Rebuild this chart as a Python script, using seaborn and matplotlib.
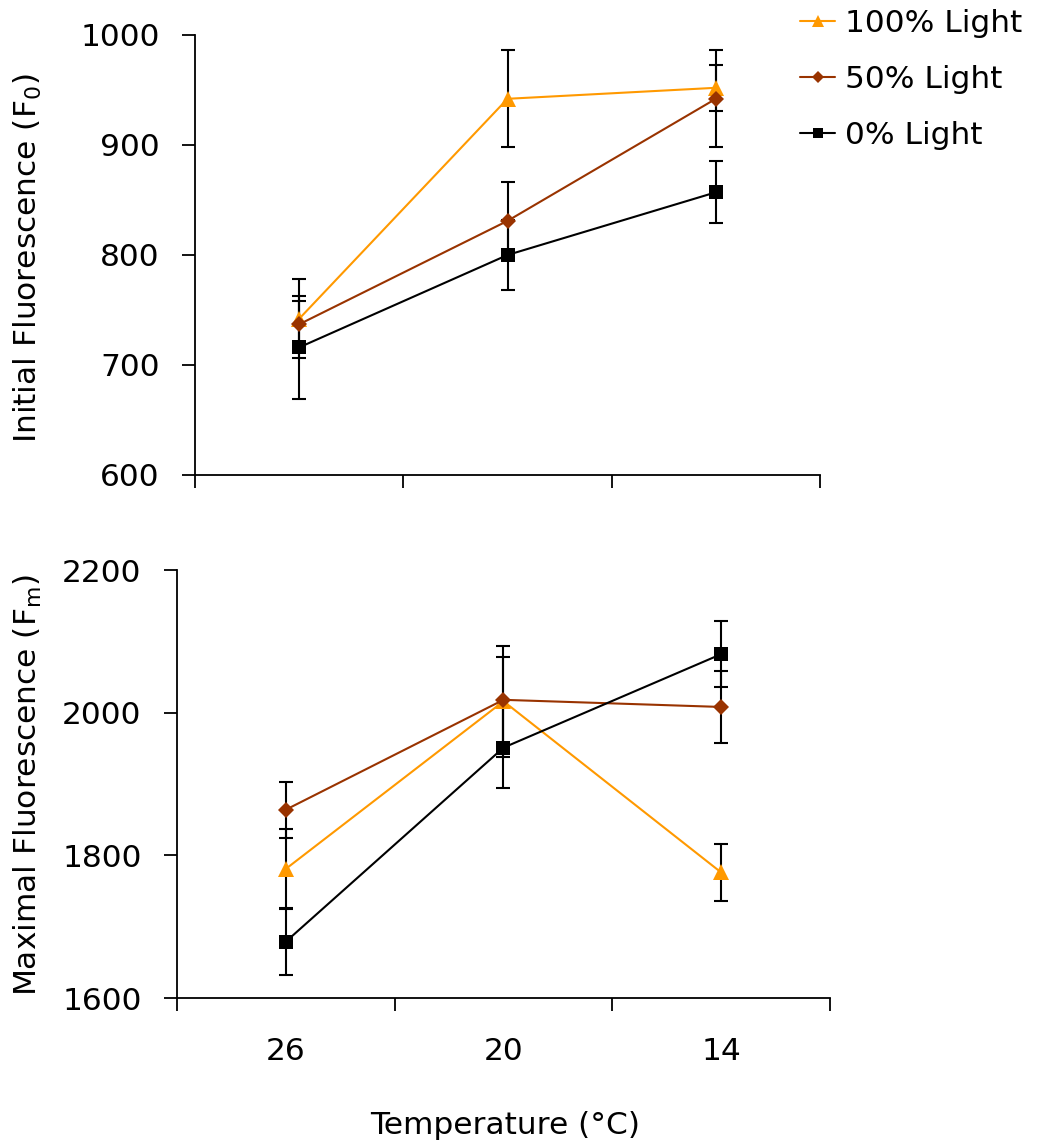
import matplotlib
matplotlib.use("Agg")
import matplotlib.pyplot as plt
from matplotlib.lines import Line2D
import seaborn as sns
import pandas as pd
import numpy as np

# ---- data ----
temperatures = ["26", "20", "14"]
series_names = ["100% Light", "50% Light", "0% Light"]

f0_100 = [742, 942, 952]
f0_100_err = [36, 44, 21]
f0_50 = [737, 831, 942]
f0_50_err = [21, 35, 44]
f0_0 = [716, 800, 857]
f0_0_err = [47, 32, 28]

fm_100 = [1781, 2016, 1776]
fm_100_err = [56, 78, 40]
fm_50 = [1864, 2018, 2008]
fm_50_err = [39, 60, 51]
fm_0 = [1679, 1951, 2082]
fm_0_err = [47, 57, 46]

f0_ticks = [600, 700, 800, 900, 1000]
fm_ticks = [1600, 1800, 2000, 2200]

# ---- style ----
sns.set_theme(style="white")
plt.rcParams['font.family'] = ['DejaVu Sans']
plt.rcParams['mathtext.fontset'] = 'dejavusans'
plt.rcParams['mathtext.default'] = 'regular'
for k in ['text.color', 'axes.labelcolor', 'xtick.color', 'ytick.color']:
    plt.rcParams[k] = 'black'

colors = {"100% Light": "#FF9900", "50% Light": "#993300", "0% Light": "#000000"}
markers = {"100% Light": "^", "50% Light": "D", "0% Light": "s"}
msizes = {"100% Light": 12, "50% Light": 8.0, "0% Light": 10.5}

W, H = 1044, 1141
fig = plt.figure(figsize=(W / 100, H / 100), dpi=100)

def axrect(l, t, r, b):
    return [l / W, 1 - b / H, (r - l) / W, (b - t) / H]

ax1 = fig.add_axes(axrect(195, 35, 820, 475))
ax2 = fig.add_axes(axrect(177, 570, 830, 998))

positions = [i + 0.5 for i in range(len(temperatures))]
FS = 22.5

def draw(ax, vals, errs, ticks):
    for name in series_names:
        ax.errorbar(positions, vals[name], yerr=errs[name], fmt='none',
                    ecolor='black', elinewidth=1.5, capsize=5.3, capthick=1.5, zorder=2)
    for name in series_names:
        df = pd.DataFrame({"x": positions, "y": vals[name]})
        sns.lineplot(data=df, x="x", y="y", ax=ax, color=colors[name],
                     marker=markers[name], markersize=msizes[name],
                     markeredgewidth=0, linewidth=1.5, legend=False, zorder=3)
    ax.set_xlim(0, len(temperatures))
    ax.set_ylim(ticks[0], ticks[-1])
    ax.set_yticks(ticks)
    ax.set_xticks(range(len(temperatures) + 1))
    ax.set_xticklabels([])
    ax.set_xlabel("")
    ax.set_ylabel("")
    for s in ["top", "right"]:
        ax.spines[s].set_visible(False)
    for s in ["left", "bottom"]:
        ax.spines[s].set_color("black")
        ax.spines[s].set_linewidth(1.3)
    ax.tick_params(axis='both', which='major', direction='out', length=9.5,
                   width=1.3, color='black', labelsize=FS, labelcolor='black')
    ax.tick_params(axis='y', which='major', pad=16, left=True)
    ax.tick_params(axis='x', which='major', bottom=True)
    ax.grid(False)

draw(ax1,
     {"100% Light": f0_100, "50% Light": f0_50, "0% Light": f0_0},
     {"100% Light": f0_100_err, "50% Light": f0_50_err, "0% Light": f0_0_err},
     f0_ticks)
draw(ax2,
     {"100% Light": fm_100, "50% Light": fm_50, "0% Light": fm_0},
     {"100% Light": fm_100_err, "50% Light": fm_50_err, "0% Light": fm_0_err},
     fm_ticks)

ax1.set_xticks(positions, [""] * len(positions), minor=True)
ax2.set_xticks(positions, temperatures, minor=True)
for ax in (ax1, ax2):
    ax.tick_params(axis='x', which='minor', length=0, labelsize=FS, pad=28,
                   labelcolor='black')

handles = [Line2D([], [], color=colors[n], marker=markers[n],
                  markersize=msizes[n] * 0.72, markeredgewidth=0, linewidth=1.5)
           for n in series_names]
fig.legend(handles, series_names, loc='upper left', bbox_to_anchor=(797 / W, 1 - 6 / H),
           frameon=False, fontsize=FS, handlelength=1.12, handletextpad=0.32,
           labelspacing=0.86, borderaxespad=0, borderpad=0.1)

fig.text(28 / W, 1 - 258 / H, "Initial Fluorescence (F$_0$)", rotation=90,
         ha='center', va='center', fontsize=FS)
fig.text(28 / W, 1 - 785 / H, "Maximal Fluorescence (F$_m$)", rotation=90,
         ha='center', va='center', fontsize=FS)
fig.text(505 / W, 1 - 1125 / H, "Temperature (°C)", ha='center', va='center',
         fontsize=FS)

fig.savefig("out.png", dpi=100, facecolor='white')
